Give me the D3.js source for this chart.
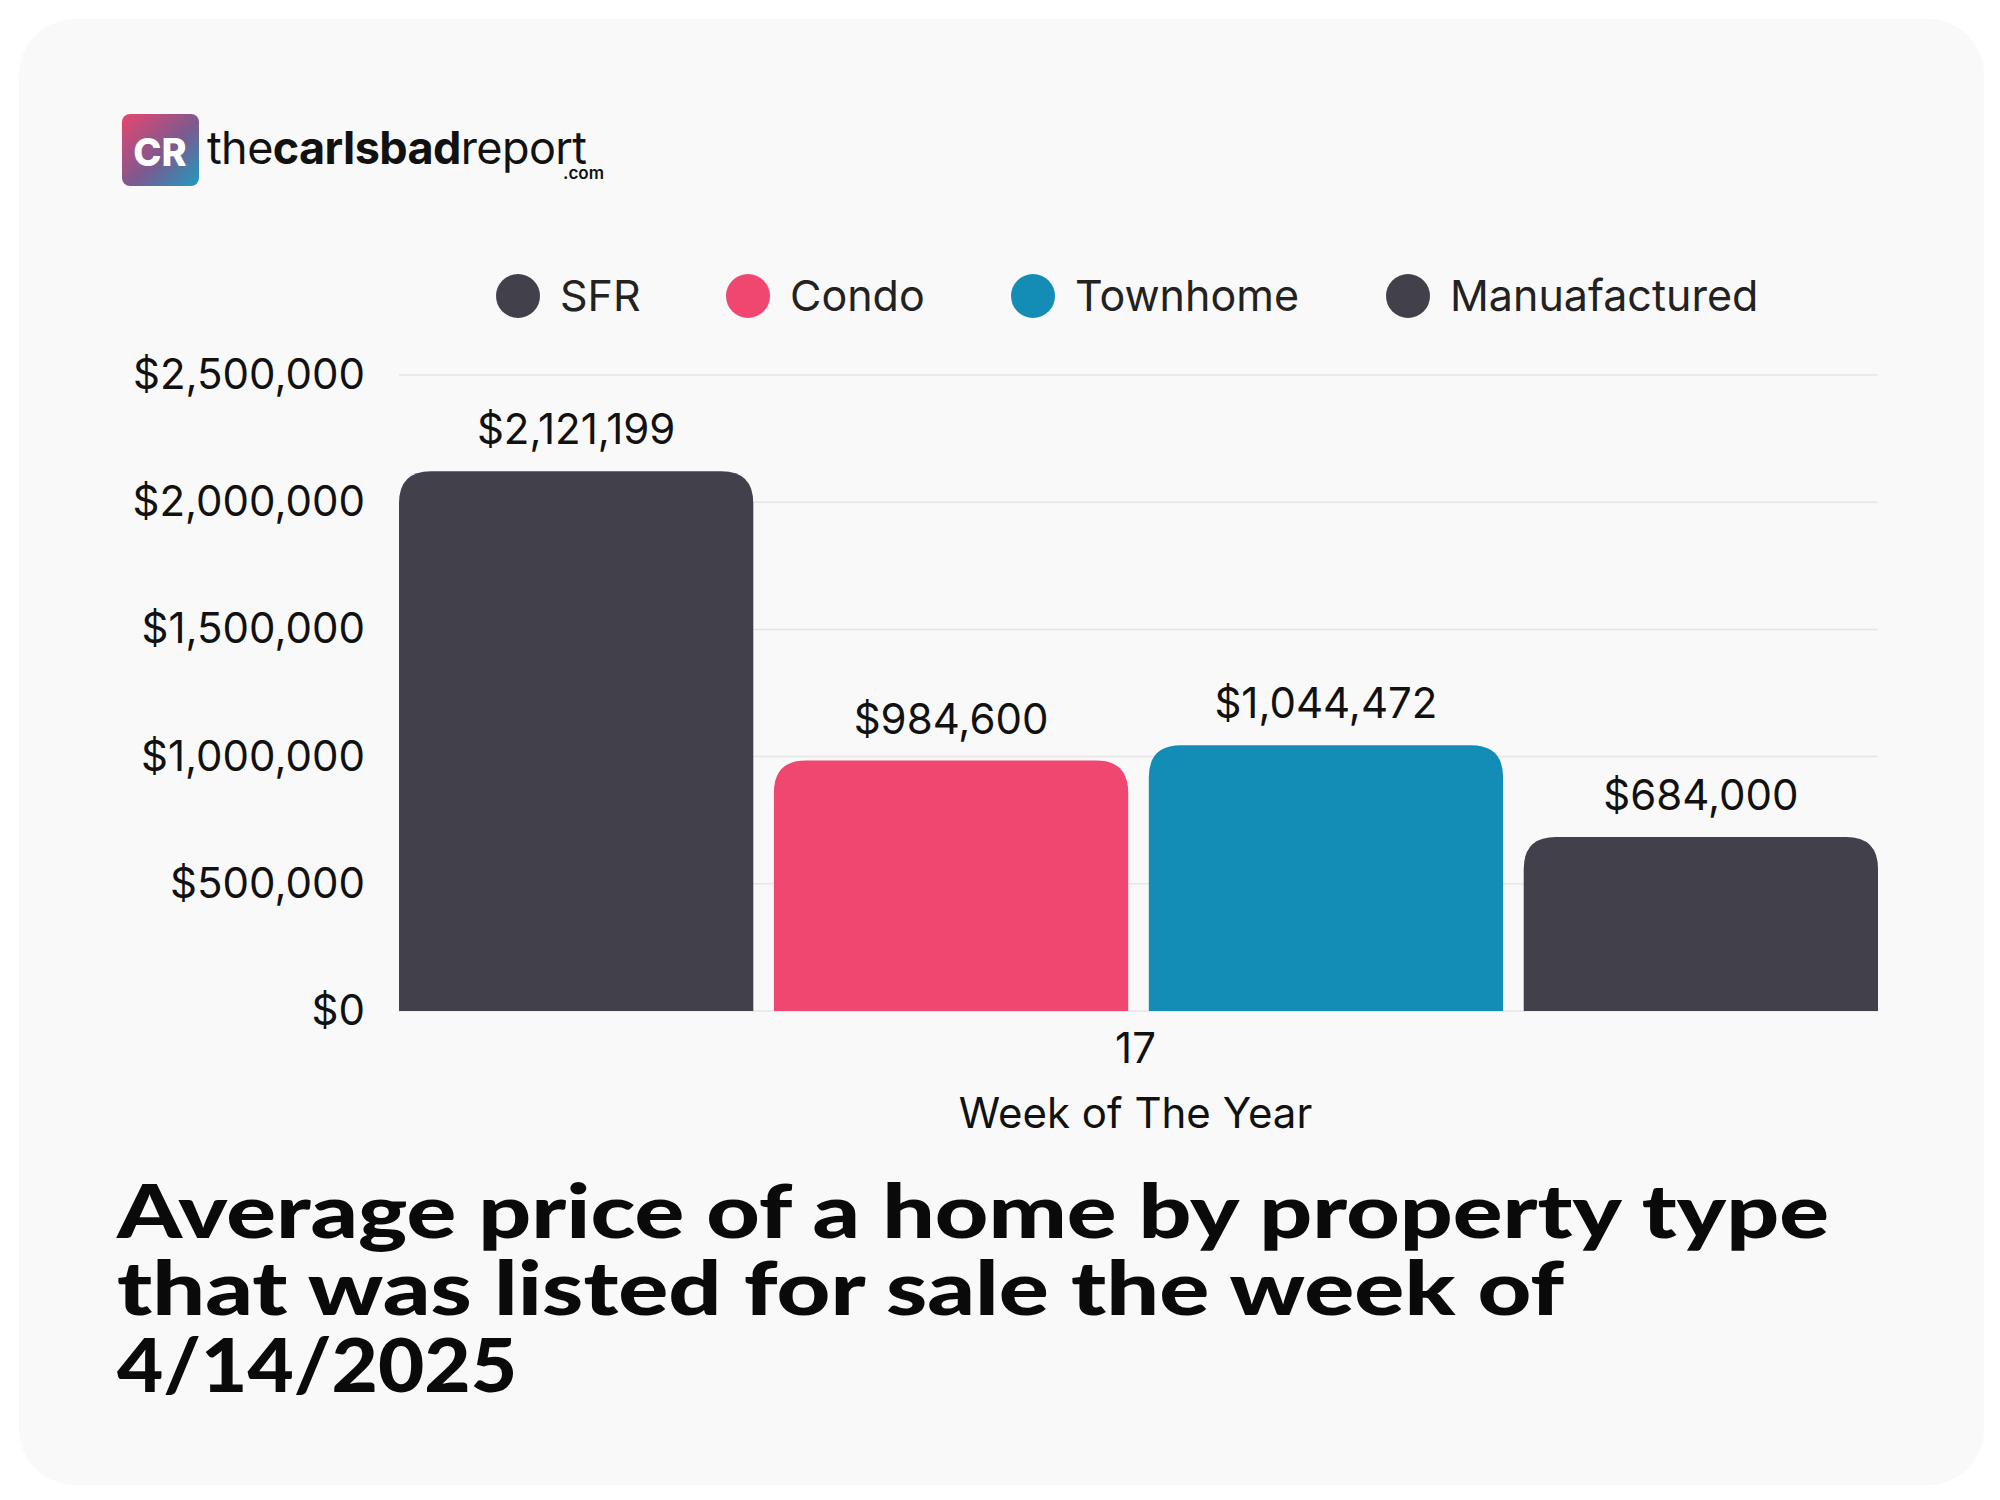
<!DOCTYPE html>
<html lang="en">
<head>
<meta charset="UTF-8">
<title>Average price by property type</title>
<style>
  body { margin: 0; background: #ffffff; }
  svg text { font-family: Inter, "Noto Sans", sans-serif; }
</style>
</head>
<body>
<div id="chart"></div>
<script src="https://cdnjs.cloudflare.com/ajax/libs/d3/7.8.5/d3.min.js"></script>
<script>
  var categories = ["SFR", "Condo", "Townhome", "Manuafactured"];
  var values = [2121199, 984600, 1044472, 684000];
  var colors = ["#41404b", "#ef4770", "#138db5", "#41404b"];
  var week = "17";
  var yTicks = [0, 500000, 1000000, 1500000, 2000000, 2500000];
  var titleLines = ["Average price of a home by property type", "that was listed for sale the week of", "4/14/2025"];
  var titleWidths = [1712, 1447, 400];

  var width = 2000, height = 1500;
  var plot = { left: 399, right: 1878, top: 375, bottom: 1011 };

  var svg = d3.select("#chart").append("svg")
    .attr("width", width).attr("height", height);

  // card
  svg.append("rect").attr("x", 19).attr("y", 19).attr("width", 1965).attr("height", 1466)
    .attr("rx", 56).attr("fill", "#f9f9f9");

  // logo
  var grad = svg.append("defs").append("linearGradient").attr("id", "lg")
    .attr("x1", "0").attr("y1", "0").attr("x2", "1").attr("y2", "1");
  grad.append("stop").attr("offset", "0").attr("stop-color", "#e8466f");
  grad.append("stop").attr("offset", "0.55").attr("stop-color", "#7b5a8f");
  grad.append("stop").attr("offset", "1").attr("stop-color", "#1d9bc0");
  svg.append("rect").attr("x", 122).attr("y", 114).attr("width", 77).attr("height", 72)
    .attr("rx", 8).attr("fill", "url(#lg)");
  svg.append("text").attr("x", 160).attr("y", 166).attr("text-anchor", "middle")
    .attr("font-size", 38).attr("font-weight", 800).attr("fill", "#fff").text("CR");
  var logo = svg.append("text").attr("x", 207).attr("y", 164).attr("font-size", 45)
    .attr("fill", "#111").attr("letter-spacing", -0.6);
  logo.append("tspan").attr("font-weight", 400).text("the");
  logo.append("tspan").attr("font-weight", 700).text("carlsbad");
  logo.append("tspan").attr("font-weight", 400).text("report");
  svg.append("text").attr("x", 604).attr("y", 179).attr("text-anchor", "end")
    .attr("font-size", 17).attr("font-weight", 600).attr("fill", "#111").text(".com");

  // legend
  var legendX = [518, 748, 1033, 1408];
  var leg = svg.append("g").selectAll("g").data(categories).enter().append("g")
    .attr("transform", function(d, i) { return "translate(" + legendX[i] + ",296)"; });
  leg.append("circle").attr("r", 22).attr("fill", function(d, i) { return colors[i]; });
  leg.append("text").attr("x", 42).attr("dy", "0.36em").attr("font-size", 43)
    .attr("fill", "#222").text(function(d) { return d; });

  // scales
  var y = d3.scaleLinear().domain([0, 2500000]).range([plot.bottom, plot.top]);
  var x = d3.scaleBand().domain(categories).range([plot.left, plot.right]).paddingInner(0.055);

  // grid
  svg.append("g").selectAll("line").data(yTicks).enter().append("line")
    .attr("x1", plot.left).attr("x2", plot.right)
    .attr("y1", function(d) { return y(d); }).attr("y2", function(d) { return y(d); })
    .attr("stroke", "#e6e6e6").attr("stroke-width", 1.5);

  // y axis
  var yAxis = svg.append("g").attr("transform", "translate(365,0)")
    .call(d3.axisLeft(y).tickValues(yTicks).tickSize(0).tickFormat(d3.format("$,.0f")));
  yAxis.select(".domain").remove();
  yAxis.selectAll("text").attr("font-size", 42).attr("fill", "#111").attr("x", 0)
    .style("font-family", "Inter, 'Noto Sans', sans-serif");

  // bars with rounded tops
  var r = 32;
  function barPath(d, i) {
    var x0 = x(categories[i]), w = x.bandwidth(), y0 = y(d), y1 = y(0);
    return "M" + x0 + "," + y1 + "V" + (y0 + r) + "Q" + x0 + "," + y0 + " " + (x0 + r) + "," + y0 +
      "H" + (x0 + w - r) + "Q" + (x0 + w) + "," + y0 + " " + (x0 + w) + "," + (y0 + r) + "V" + y1 + "Z";
  }
  svg.append("g").selectAll("path").data(values).enter().append("path")
    .attr("d", barPath).attr("fill", function(d, i) { return colors[i]; });

  svg.append("g").selectAll("text").data(values).enter().append("text")
    .attr("x", function(d, i) { return x(categories[i]) + x.bandwidth() / 2; })
    .attr("y", function(d) { return y(d) - 27; })
    .attr("text-anchor", "middle").attr("font-size", 42).attr("fill", "#111")
    .text(function(d) { return d3.format("$,")(d); });

  // x axis label
  var cx = (plot.left + plot.right) / 2;
  svg.append("text").attr("x", cx - 3).attr("y", 1063).attr("text-anchor", "middle")
    .attr("font-size", 42).attr("fill", "#111").text(week);
  svg.append("text").attr("x", cx - 3).attr("y", 1128).attr("text-anchor", "middle")
    .attr("font-size", 42).attr("fill", "#111").text("Week of The Year");

  // title
  svg.append("g").selectAll("text").data(titleLines).enter().append("text")
    .attr("x", 117).attr("y", function(d, i) { return 1238 + i * 77; })
    .attr("font-size", 74).attr("font-weight", 900).attr("fill", "#0a0a0a")
    .attr("textLength", function(d, i) { return titleWidths[i]; })
    .attr("lengthAdjust", "spacingAndGlyphs")
    .style("font-family", "Lato, Inter, sans-serif")
    .text(function(d) { return d; });
</script>
</body>
</html>
